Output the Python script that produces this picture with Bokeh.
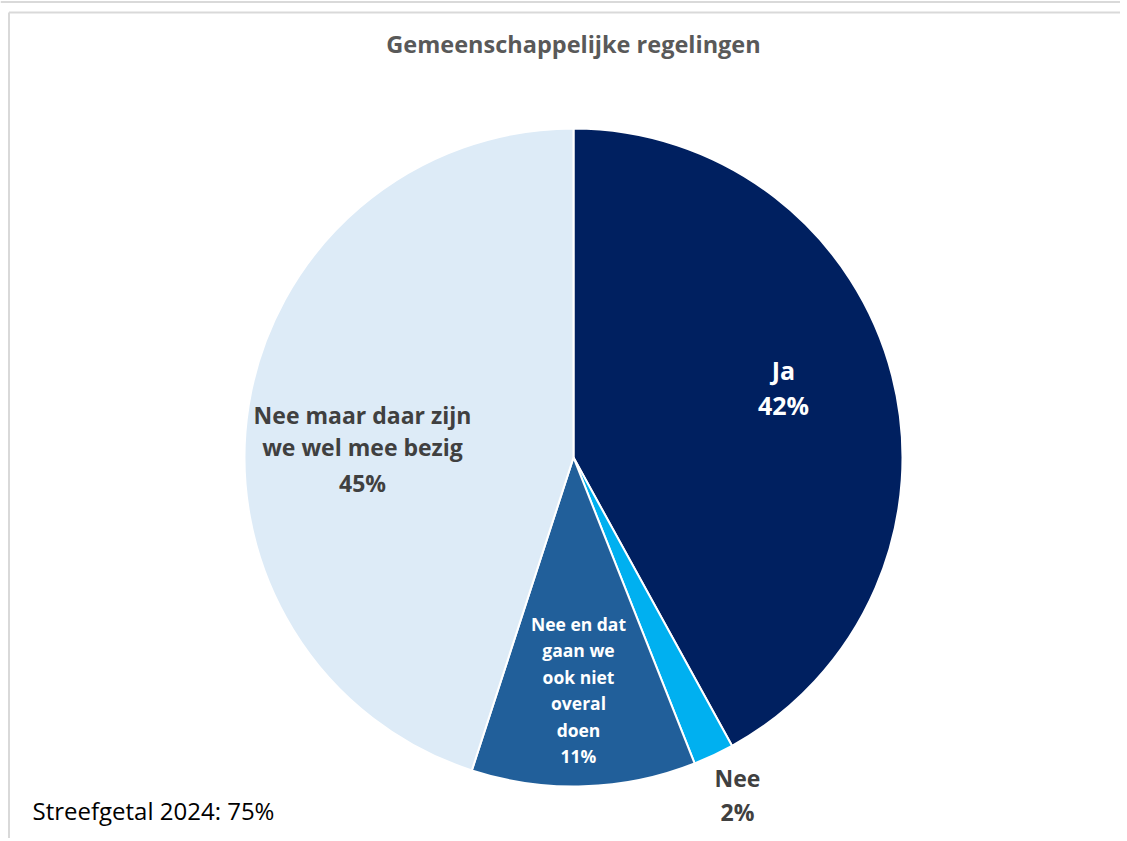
import math
from bokeh.plotting import figure
from bokeh.models import Range1d
from bokeh.core.properties import value
from bokeh.embed import file_html
from bokeh.resources import INLINE

# ---- data ----
categories = ["Ja", "Nee", "Nee en dat gaan we ook niet overal doen", "Nee maar daar zijn we wel mee bezig"]
percentages = [42, 2, 11, 45]
colors = ["#002060", "#00B0F0", "#215F9A", "#DDEBF7"]
label_lines = [["Ja"], ["Nee"], ["Nee en dat", "gaan we", "ook niet", "overal", "doen"], ["Nee maar daar zijn", "we wel mee bezig"]]
label_colors = ["#FFFFFF", "#404040", "#FFFFFF", "#404040"]
title_text = "Gemeenschappelijke regelingen"
note_text = "Streefgetal 2024: 75%"

W, H = 1120, 838
FONT = "Open Sans"

def px(x):
    return x

def py(y):
    return H - y

p = figure(width=W, height=H, output_backend="svg", toolbar_location=None,
           x_range=Range1d(0, W), y_range=Range1d(0, H), min_border=0)
p.axis.visible = False
p.grid.visible = False
p.outline_line_color = None
p.background_fill_color = "#FFFFFF"
p.border_fill_color = "#FFFFFF"

# frame lines
p.segment(x0=[0, 8.5, 8.5], y0=[py(1.5), py(12), py(12)], x1=[W, W, 8.5], y1=[py(1.5), py(12), 0],
          line_color="#D9D9D9", line_width=2)

# pie
cx, cy, r = px(573), py(457), 329
total = sum(percentages)
starts, ends = [], []
a = math.pi / 2
for v in percentages:
    starts.append(a)
    a -= v / total * 2 * math.pi
    ends.append(a)
p.wedge(x=cx, y=cy, radius=r, start_angle=starts, end_angle=ends, direction="clock",
        fill_color=colors, line_color="#FFFFFF", line_width=2)

# labels (page-pixel anchor of first line, line spacing, font size)
label_layout = [
    (783, 369, 35, "25px"),
    (737, 777, 34, "23px"),
    (578, 623, 26.5, "17.5px"),
    (362, 414, 32, "23px"),
]
for i, (lx, ly, dy, fs) in enumerate(label_layout):
    lines = label_lines[i] + [f"{percentages[i]}%"]
    xs = [px(lx)] * len(lines)
    ys = [py(ly + k * dy) for k in range(len(lines))]
    if i == 3:
        ys[-1] = py(ly + 1 * dy + 36)
    p.text(x=xs, y=ys, text=lines, text_align="center", text_baseline="middle",
           text_color=label_colors[i], text_font=value(FONT), text_font_style="bold",
           text_font_size=fs)

# title
p.text(x=[px(573)], y=[py(43)], text=[title_text], text_align="center", text_baseline="middle",
       text_color="#595959", text_font=value(FONT), text_font_style="bold", text_font_size="23.5px")

# note
p.text(x=[px(32)], y=[py(810)], text=[note_text], text_align="left", text_baseline="middle",
       text_color="#000000", text_font=value(FONT), text_font_size="24px")

open("out.html", "w").write(file_html(p, INLINE))
